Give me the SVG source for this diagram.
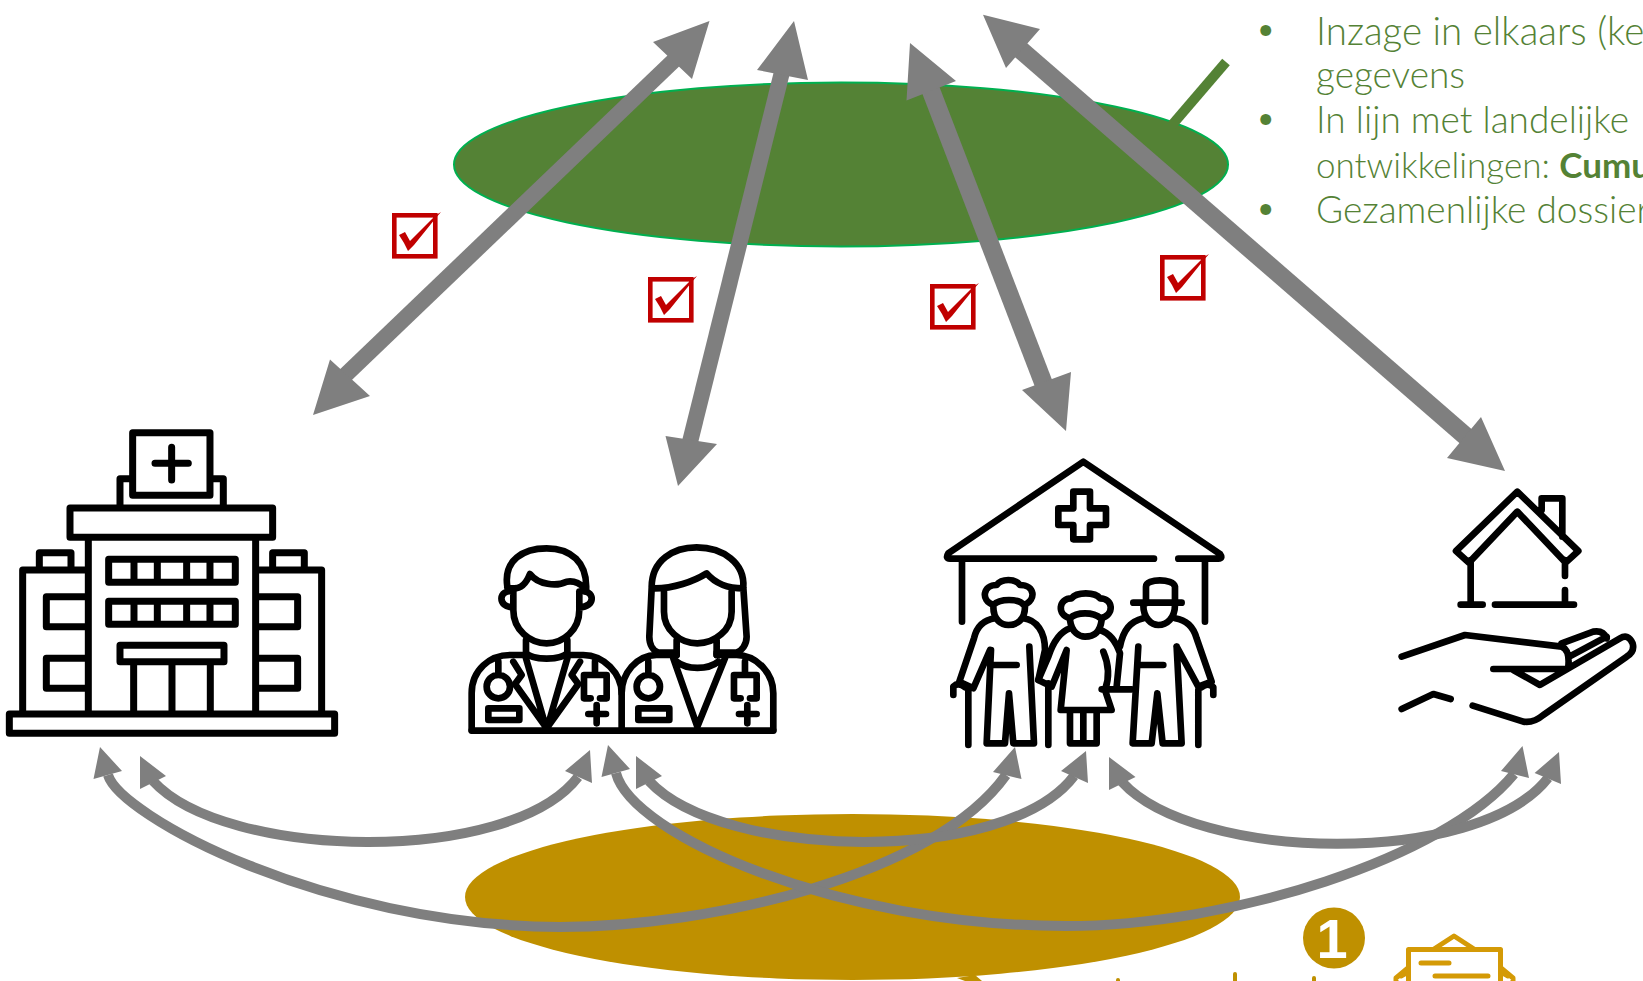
<svg xmlns="http://www.w3.org/2000/svg" width="1643" height="981" viewBox="0 0 1643 981">
<style>
.a{fill:#7f7f7f}
.s{fill:none;stroke:#7f7f7f;stroke-width:10}
.b{fill:none;stroke:#7f7f7f;stroke-width:16}
.B{fill:none;stroke:#7f7f7f;stroke-width:18.500}
.i{fill:none;stroke:#000;stroke-width:20;stroke-linecap:round;stroke-linejoin:round}
.t{font-family:"Lato","Liberation Sans",sans-serif;font-weight:300;font-size:37px;fill:#548235}
.c{fill:none;stroke:#d49a06;stroke-width:5;stroke-linecap:round;stroke-linejoin:round}
</style>
<defs>
<g id="chk"><rect x="2.300" y="2.300" width="41" height="41" fill="none" stroke="#c00000" stroke-width="4.600"/><path d="M7 22L13 19L18 28L44 2L49 -1L43 6L22 32L16 38L12 30Z" fill="#c00000"/></g>
</defs>
<g id="ellipse-top"><ellipse cx="841" cy="164.500" rx="387" ry="82" fill="#548235" stroke="#00b050" stroke-width="2"/></g>
<path id="stub" d="M1226 62L1172 125" fill="none" stroke="#548235" stroke-width="10"/>
<g id="ellipse-bottom"><ellipse cx="852.500" cy="897" rx="387.500" ry="83" fill="#bf9000"/><path d="M957 978L975 975L982 981H965Z" fill="#bf9000"/><path d="M1235 974V981M1314 978V981M1118 980V981" stroke="#bf9000" stroke-width="4" fill="none" stroke-linecap="round"/></g>
<g id="badge-1"><ellipse cx="1334" cy="938" rx="31" ry="30.500" fill="#bf9000"/><text x="1332" y="958" font-family="'Liberation Sans',sans-serif" font-weight="700" font-size="56" fill="#fff" text-anchor="middle">1</text></g>
<g id="clipboard" class="c"><path d="M1408.500 981V949.500H1500.500V981M1434 949L1454 936L1474 949M1408 968L1396 978V981M1401 976L1408 972M1501 968L1513 978V981M1508 976L1501 972M1421 963H1449M1435 976H1488"/></g>
<g id="text-block">
<text class="t" x="1255" y="42">•</text><text class="t" x="1316" y="45" style="font-size:38.500px">Inzage in elkaars (ke</text>
<text class="t" x="1316" y="88">gegevens</text>
<text class="t" x="1255" y="131">•</text><text class="t" x="1316" y="133">In lijn met landelijke</text>
<text class="t" x="1316" y="178" style="font-size:35px">ontwikkelingen: <tspan font-weight="700">Cumu</tspan></text>
<text class="t" x="1255" y="221">•</text><text class="t" x="1316" y="223">Gezamenlijke dossier</text>
</g>
<g id="check-1"><use href="#chk" x="392" y="213"/></g>
<g id="check-2"><use href="#chk" x="648" y="277"/></g>
<g id="check-3"><use href="#chk" x="930" y="284"/></g>
<g id="check-4"><use href="#chk" x="1160" y="255"/></g>
<g id="hospital" transform="translate(0 420) scale(.3333)" class="i" style="stroke-width:21;stroke-linecap:butt">
<rect x="398" y="38" width="232" height="188"/>
<path d="M465 130H565M515 82V180" style="stroke-linecap:round"/>
<path d="M398 176H360V262M630 176H670V262"/>
<rect x="210" y="264" width="608" height="88"/>
<path d="M265 352V880M767 352V880"/>
<rect x="326" y="418" width="380" height="69"/><path d="M402 418V487M472 418V487M560 418V487M630 418V487"/>
<rect x="326" y="544" width="380" height="69"/><path d="M402 544V613M472 544V613M560 544V613M630 544V613"/>
<rect x="360" y="676" width="312" height="49"/><path d="M401 725V880M516 725V880M631 725V880"/>
<path d="M265 450H68V880M118 450V398H213V450M767 450H965V880M818 450V398H913V450"/>
<path d="M265 530H139V620H265M265 715H139V805H265M767 530H893V620H767M767 715H893V805H767"/>
<rect x="28" y="882" width="976" height="58"/>
</g>
<g id="doctors" transform="translate(460 530) scale(.3333)" class="i">
<path d="M142 170C130 90 190 55 260 55C330 55 385 95 378 185M142 172C175 182 195 170 210 132C235 165 290 170 320 155C345 150 365 165 372 175"/>
<path d="M160 185V240C160 300 210 340 260 340C310 340 358 300 358 240V185M160 185C115 175 110 232 160 232M358 185C405 175 410 232 358 232"/>
<path d="M198 330V368C215 392 305 392 322 368V330M198 375H150C90 375 35 420 35 490V600M322 375H370C430 375 485 430 485 490V600"/>
<path d="M35 602H940M160 395L185 435L165 462L258 592L198 385M360 395L335 435L355 462L262 592L322 385"/>
<path d="M115 395V435M115 435A35 35 0 1 0 115 505A35 35 0 1 0 115 435M405 395V435M405 435H372V505H392M405 435H440V505H420M85 535H178V570H85ZM410 525V580M385 552H438"/>
<path d="M575 172C575 90 640 52 710 52C790 52 855 100 850 172L860 320C860 345 845 362 830 368H770M575 175L568 320C568 345 580 362 595 368H650M585 175C640 175 700 155 740 130C770 165 810 175 850 175"/>
<path d="M612 185V245C612 300 660 340 712 340C765 340 815 300 815 245V185M650 330V375M770 330V375M650 395C680 420 745 420 775 395M640 385L712 590L795 385"/>
<path d="M485 490C485 430 530 375 590 375H650M770 375H830C890 375 940 430 940 490V600"/>
<path d="M565 395V435M565 435A35 35 0 1 0 565 505A35 35 0 1 0 565 435M855 395V435M855 435H822V505H842M855 435H890V505H870M535 535H628V570H535ZM862 525V580M837 552H890"/>
</g>
<g id="elderly" transform="translate(930 450) scale(.3333)" class="i">
<path d="M672 326H60Q45 326 55 310L460 35L870 312Q880 326 865 326H745M96 335V515M825 335V515"/>
<path d="M430 125H480V175H528V225H480V268H430V225H385V175H430Z"/>
<path d="M190 465C150 450 160 405 200 405C215 385 255 385 270 405C315 405 320 450 282 465C265 445 210 445 190 465ZM190 470C190 510 215 525 235 525C260 525 285 510 285 470"/>
<path d="M195 505C160 510 140 530 132 565L88 695L130 715L180 600M280 505C320 510 345 545 345 600L325 690M183 600L170 880H225L237 730L250 880H312L298 590M185 645H260M115 720V885M70 735V710Q85 695 105 712M355 700V885"/>
<path d="M420 505C380 495 385 445 425 445C440 425 495 425 510 445C550 445 555 495 512 505C490 485 440 485 420 505ZM420 510C425 550 450 560 465 560C490 560 510 550 515 510"/>
<path d="M420 535C390 545 370 575 355 620L325 690L365 710L410 600L392 780H545L525 720C540 680 535 640 520 605M515 718H605M510 540C540 550 560 580 570 610L560 710M420 785V880H500V785M460 785V880"/>
<path d="M648 460V410C648 385 730 385 735 410V460M610 458H755M640 465C640 505 665 525 685 525C710 525 735 505 735 465"/>
<path d="M640 505C600 515 580 540 570 590M735 505C770 510 790 530 800 565L845 695L805 710L740 590M625 590L608 880H665L682 730L698 880H755L740 590M625 645H700M805 720V885M850 735V712Q835 695 815 712"/>
</g>
<g id="care" transform="translate(1380 480) scale(.3333)" class="i">
<path d="M228 213L412 35L595 213L557 248L412 95L267 248ZM485 90V55H547V170M272 240V372M555 240V288M555 330V372M242 374H308M345 374H582"/>
<path d="M65 530L255 465L545 500Q570 510 565 560M340 567H560M545 490L640 455Q670 450 680 475M400 570L480 615L720 475Q745 460 758 490Q765 515 740 530L490 705Q460 730 430 725L278 677M65 687L160 642L212 657M568 530L680 470"/>
</g>
<g id="connectors">
<path class="b" d="M690 45L333 387"/><path class="a" d="M709.500 21L653 42L692 79ZM313 415L330 359.500L370 396Z"/>
<path class="b" d="M785 60L688 450"/><path class="a" d="M794 21L757 70L808 80ZM678 486L665.500 436L717 444Z"/>
<path class="B" d="M925 75L1048 395"/><path class="a" d="M910 43L906.500 100.600L956 81ZM1066 431L1022 390L1071 372Z"/>
<path class="B" d="M1015 45L1470 440"/><path class="a" d="M983 14.700L1040 29L1006 68ZM1505 471L1447 458L1481 417Z"/>
<path class="s" d="M153 781C225 860 510 866 578 777"/><path class="a" d="M140 756V789L166 776ZM590 750L565 771L592 783Z"/>
<path class="s" d="M108 775C120 815 320 925 560 927C710 927 935 875 1006 775"/>
<path class="a" d="M100 747L93.500 779L122 771ZM1015 747L993 772L1021.500 779Z"/>
<path class="s" d="M649 781C722 860 1006 866 1074 776"/><path class="a" d="M636 756V789L662 776ZM1086 751L1061 771L1088 783Z"/>
<path class="s" d="M616 773C632 835 838 926 1066 926C1230 926 1445 858 1514 774"/><path class="a" d="M608 745L601.500 777L630 769ZM1522.500 746L1501 771L1529 778Z"/>
<path class="s" d="M1122 782C1195 862 1478 868 1548 778"/><path class="a" d="M1109 757V790L1135.500 777ZM1559 752L1534.600 773L1561 784Z"/>
</g>
</svg>
